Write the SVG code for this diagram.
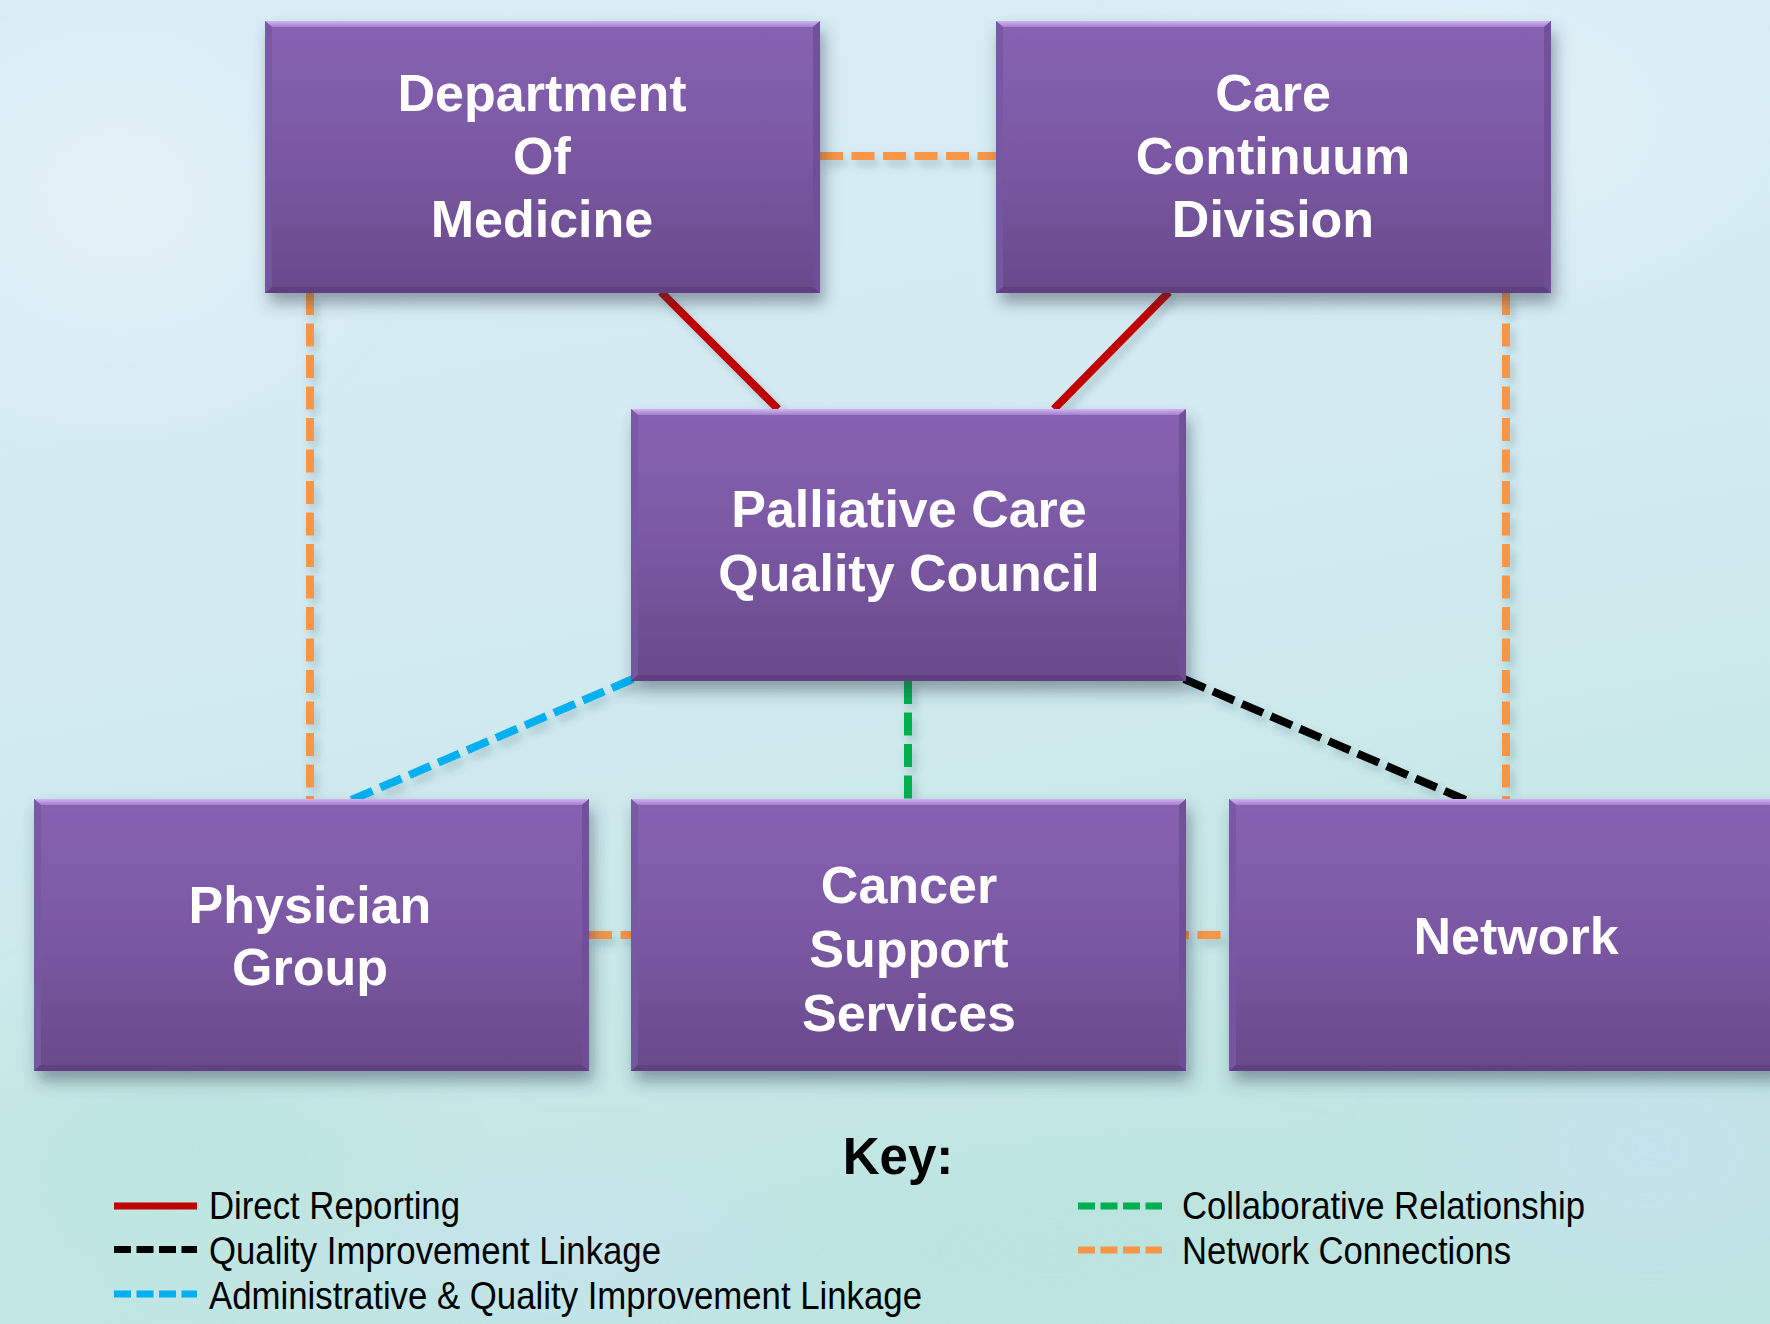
<svg xmlns="http://www.w3.org/2000/svg" xmlns:xlink="http://www.w3.org/1999/xlink" width="1770" height="1324" viewBox="0 0 1770 1324">
  <defs>
    <!-- watercolour-like backdrop -->
    <linearGradient id="bg" x1="0" y1="0" x2="0.25" y2="1">
      <stop offset="0" stop-color="#d9edf5"/>
      <stop offset="0.45" stop-color="#d4ebf2"/>
      <stop offset="0.8" stop-color="#c8e8e8"/>
      <stop offset="1" stop-color="#bfe5e2"/>
    </linearGradient>
    <radialGradient id="blobGreen" cx="0.5" cy="0.5" r="0.5">
      <stop offset="0" stop-color="#b9e4dc" stop-opacity="0.8"/>
      <stop offset="1" stop-color="#b9e4dc" stop-opacity="0"/>
    </radialGradient>
    <radialGradient id="blobLight" cx="0.5" cy="0.5" r="0.5">
      <stop offset="0" stop-color="#e6f3f8" stop-opacity="0.9"/>
      <stop offset="1" stop-color="#e6f3f8" stop-opacity="0"/>
    </radialGradient>
    <radialGradient id="blobBlue" cx="0.5" cy="0.5" r="0.5">
      <stop offset="0" stop-color="#c6e2f1" stop-opacity="0.8"/>
      <stop offset="1" stop-color="#c6e2f1" stop-opacity="0"/>
    </radialGradient>

    <!-- node box: purple body with bevelled edges -->
    <linearGradient id="boxFill" x1="0" y1="0" x2="0" y2="1">
      <stop offset="0" stop-color="#8762b2"/>
      <stop offset="0.5" stop-color="#7a58a3"/>
      <stop offset="1" stop-color="#684a8a"/>
    </linearGradient>
    <linearGradient id="bevelTop" x1="0" y1="0" x2="0" y2="1">
      <stop offset="0" stop-color="#d3b3f3"/>
      <stop offset="1" stop-color="#a180cd"/>
    </linearGradient>
    <filter id="boxShadow" x="-10%" y="-10%" width="125%" height="130%">
      <feDropShadow dx="4" dy="10" stdDeviation="8" flood-color="#2b3d4c" flood-opacity="0.45"/>
    </filter>
    <filter id="lineShadow" x="-20%" y="-20%" width="140%" height="140%">
      <feDropShadow dx="4" dy="6" stdDeviation="4" flood-color="#2b4656" flood-opacity="0.22"/>
    </filter>
    <filter id="soft" x="-50%" y="-50%" width="200%" height="200%">
      <feGaussianBlur stdDeviation="30"/>
    </filter>

    <symbol id="box" width="555" height="272" viewBox="0 0 555 272" overflow="visible">
      <rect width="555" height="272" fill="url(#boxFill)"/>
      <polygon points="0,0 555,0 548,6 7,6" fill="url(#bevelTop)"/>
      <polygon points="0,0 7,6 7,266 0,272" fill="#7758a4" opacity="0.85"/>
      <polygon points="555,0 555,272 548,266 548,6" fill="#6e4f98" opacity="0.85"/>
      <polygon points="0,272 7,266 548,266 555,272" fill="#5f4080"/>
    </symbol>

    <style>
      .lbl { font-family: "Liberation Sans", Arial, sans-serif; font-weight: bold; font-size: 52px; fill: #ffffff; text-anchor: middle; }
      .key { font-family: "Liberation Sans", Arial, sans-serif; font-weight: bold; font-size: 51px; fill: #000000; text-anchor: middle; }
      .leg { font-family: "Liberation Sans Narrow", "Liberation Sans", Arial, sans-serif; font-size: 39px; fill: #000000; }
      .conn { fill: none; stroke-width: 8; }
      .dash { stroke-dasharray: 23 8.5; }
      .red { stroke: #c00000; }
      .orange { stroke: #f79646; }
      .blue { stroke: #00b0f0; }
      .black { stroke: #000000; }
      .green { stroke: #00b050; }
      .legline { fill: none; stroke-width: 7; }
      .legdash { stroke-dasharray: 17 5.5; }
    </style>
  </defs>

  <!-- background -->
  <rect width="1770" height="1324" fill="url(#bg)"/>
  <g filter="url(#soft)">
    <ellipse cx="180" cy="1150" rx="320" ry="180" fill="url(#blobGreen)"/>
    <ellipse cx="1050" cy="1250" rx="420" ry="120" fill="url(#blobGreen)"/>
    <ellipse cx="1650" cy="1150" rx="260" ry="160" fill="url(#blobBlue)"/>
    <ellipse cx="1450" cy="120" rx="360" ry="200" fill="url(#blobLight)"/>
    <ellipse cx="120" cy="200" rx="260" ry="220" fill="url(#blobLight)"/>
    <ellipse cx="560" cy="1250" rx="300" ry="90" fill="url(#blobBlue)"/>
  </g>

  <!-- connectors -->
  <g id="connectors" filter="url(#lineShadow)">
    <line class="conn dash orange" x1="820" y1="156" x2="996" y2="156"/>
    <line class="conn dash orange" x1="310" y1="292" x2="310" y2="799"/>
    <line class="conn dash orange" x1="1506" y1="292" x2="1506" y2="799"/>
    <line class="conn dash orange" x1="589" y1="935" x2="631" y2="935"/>
    <line class="conn dash orange" x1="1186" y1="935" x2="1229" y2="935" stroke-dashoffset="20"/>
    <line class="conn red" x1="661" y1="292" x2="778" y2="409"/>
    <line class="conn red" x1="1169" y1="292" x2="1054" y2="409"/>
    <line class="conn dash blue" x1="633" y1="679" x2="349" y2="801" stroke-width="9"/>
    <line class="conn dash green" x1="908" y1="681" x2="908" y2="799"/>
    <line class="conn dash black" x1="1184" y1="679" x2="1468" y2="801" stroke-width="9"/>
  </g>

  <!-- nodes -->
  <g id="dept-medicine">
    <use href="#box" x="265" y="21" filter="url(#boxShadow)"/>
    <text class="lbl" x="542" y="111">Department</text>
    <text class="lbl" x="542" y="174">Of</text>
    <text class="lbl" x="542" y="237">Medicine</text>
  </g>
  <g id="care-continuum">
    <use href="#box" x="996" y="21" filter="url(#boxShadow)"/>
    <text class="lbl" x="1273" y="111">Care</text>
    <text class="lbl" x="1273" y="174">Continuum</text>
    <text class="lbl" x="1273" y="237">Division</text>
  </g>
  <g id="palliative-council">
    <use href="#box" x="631" y="409" filter="url(#boxShadow)"/>
    <text class="lbl" x="909" y="527">Palliative Care</text>
    <text class="lbl" x="909" y="591">Quality Council</text>
  </g>
  <g id="physician-group">
    <use href="#box" x="34" y="799" filter="url(#boxShadow)"/>
    <text class="lbl" x="310" y="923">Physician</text>
    <text class="lbl" x="310" y="985">Group</text>
  </g>
  <g id="cancer-support">
    <use href="#box" x="631" y="799" filter="url(#boxShadow)"/>
    <text class="lbl" x="909" y="903">Cancer</text>
    <text class="lbl" x="909" y="967">Support</text>
    <text class="lbl" x="909" y="1031">Services</text>
  </g>
  <g id="network">
    <use href="#box" x="1229" y="799" filter="url(#boxShadow)"/>
    <text class="lbl" x="1516" y="954">Network</text>
  </g>

  <!-- legend -->
  <g id="legend">
    <text class="key" x="898" y="1174">Key:</text>

    <line class="legline red" x1="114" y1="1206" x2="197" y2="1206"/>
    <text class="leg" x="209" y="1219" textLength="251" lengthAdjust="spacingAndGlyphs">Direct Reporting</text>

    <line class="legline legdash black" x1="114" y1="1249.5" x2="197" y2="1249.5"/>
    <text class="leg" x="209" y="1263.5" textLength="452" lengthAdjust="spacingAndGlyphs">Quality Improvement Linkage</text>

    <line class="legline legdash blue" x1="114" y1="1294" x2="197" y2="1294"/>
    <text class="leg" x="209" y="1309" textLength="713" lengthAdjust="spacingAndGlyphs">Administrative &amp; Quality Improvement Linkage</text>

    <line class="legline legdash green" x1="1078" y1="1206" x2="1162" y2="1206"/>
    <text class="leg" x="1182" y="1218.5" textLength="403" lengthAdjust="spacingAndGlyphs">Collaborative Relationship</text>

    <line class="legline legdash orange" x1="1078" y1="1250" x2="1162" y2="1250"/>
    <text class="leg" x="1182" y="1264" textLength="329" lengthAdjust="spacingAndGlyphs">Network Connections</text>
  </g>
</svg>
